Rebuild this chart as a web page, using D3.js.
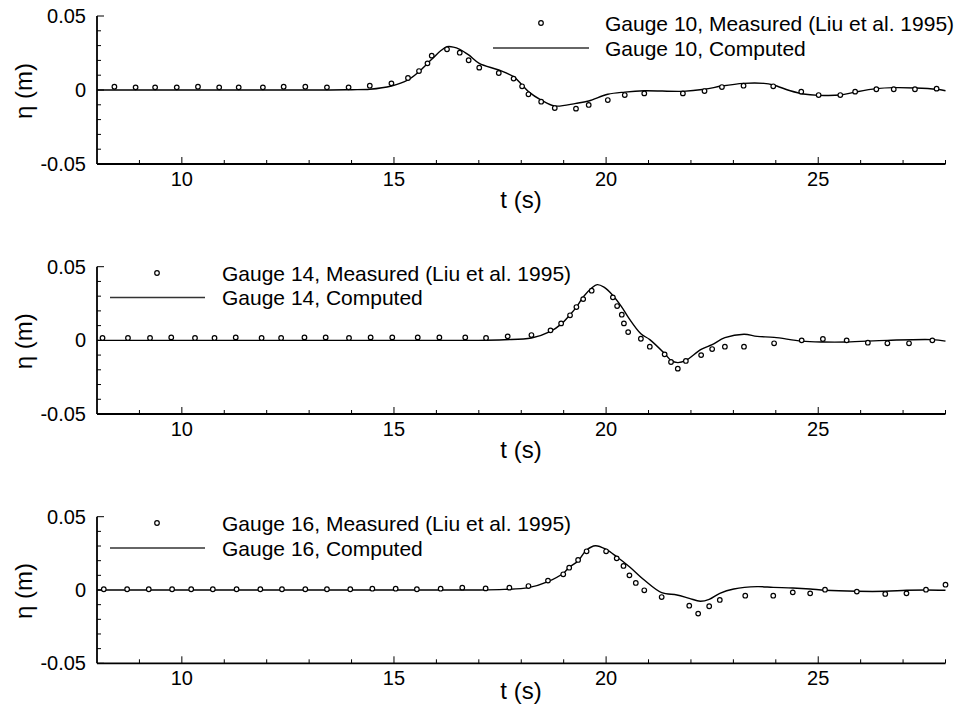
<!DOCTYPE html>
<html>
<head>
<meta charset="utf-8">
<script src="https://cdn.jsdelivr.net/npm/d3@7"></script>
<style>
  html, body { margin: 0; padding: 0; background: #fff; }
  svg { display: block; font-family: "Liberation Sans", Arial, Helvetica, sans-serif; }
</style>
</head>
<body>
<svg id="chart" width="958" height="718"></svg>
<script>
// ── Data ──────────────────────────────────────────────────────
const xTicksMajor = [10, 15, 20, 25];
const yTicksMajor = [0.05, 0, -0.05];
const yTickLabels = ["0.05", "0", "-0.05"];

// Gauge 10
const g10MeasT = [8.41, 8.91, 9.37, 9.88, 10.38, 10.88, 11.34, 11.91, 12.40, 12.91, 13.42, 13.93, 14.43, 14.94, 15.33, 15.59, 15.79, 15.89, 16.25, 16.55, 16.76, 17.01, 17.47, 17.82, 18.02, 18.17, 18.47, 18.79, 19.29, 19.59, 20.04, 20.44, 20.90, 21.81, 22.32, 22.73, 23.24, 23.94, 24.60, 25.01, 25.52, 25.87, 26.37, 26.78, 27.28, 27.79];
const g10MeasEta = [0.0022, 0.0018, 0.0018, 0.0018, 0.0022, 0.0018, 0.0018, 0.0018, 0.0022, 0.0022, 0.0018, 0.0018, 0.0029, 0.0045, 0.0081, 0.0128, 0.018, 0.0232, 0.0275, 0.0252, 0.0201, 0.0151, 0.0115, 0.0077, 0.0025, -0.0029, -0.0079, -0.0122, -0.0126, -0.0101, -0.0068, -0.0034, -0.0023, -0.0023, -0.0007, 0.002, 0.0029, 0.0025, -0.0011, -0.0034, -0.0034, -0.0011, 0.0005, 0.0005, 0.0005, 0.0009];
const g10CompT = [8, 10, 12, 13.5, 14.0, 14.43, 14.94, 15.33, 15.59, 15.89, 16.1, 16.25, 16.4, 16.55, 16.76, 17.01, 17.47, 17.82, 18.02, 18.17, 18.47, 18.79, 19.29, 19.59, 20.04, 20.44, 20.9, 21.81, 22.32, 22.73, 23.24, 23.72, 23.94, 24.34, 24.65, 25.01, 25.52, 25.87, 26.37, 26.78, 27.28, 27.79, 28.0];
const g10CompEta = [0, 0, 0, 0, 0.0002, 0.0005, 0.0027, 0.0068, 0.0124, 0.0207, 0.0265, 0.0292, 0.029, 0.0275, 0.0237, 0.018, 0.0135, 0.009, 0.0034, -0.0011, -0.0068, -0.0108, -0.009, -0.0074, -0.0029, -0.0014, -0.0005, -0.0009, 0.0005, 0.0027, 0.0045, 0.0045, 0.0034, -0.0005, -0.0027, -0.0036, -0.0034, -0.0014, 0.0009, 0.0016, 0.0014, 0.0005, -0.0005];

// Gauge 14
const g14MeasT = [8.13, 8.73, 9.25, 9.75, 10.31, 10.77, 11.27, 11.88, 12.34, 12.89, 13.39, 13.94, 14.45, 14.96, 15.56, 16.07, 16.68, 17.17, 17.68, 18.24, 18.69, 18.94, 19.15, 19.30, 19.46, 19.66, 20.16, 20.26, 20.37, 20.42, 20.52, 20.82, 21.03, 21.38, 21.53, 21.69, 21.88, 22.24, 22.50, 22.80, 23.25, 23.96, 24.61, 25.11, 25.67, 26.17, 26.63, 27.14, 27.69];
const g14MeasEta = [0.0016, 0.0016, 0.0016, 0.002, 0.0016, 0.0016, 0.002, 0.0016, 0.0016, 0.002, 0.002, 0.0016, 0.002, 0.002, 0.002, 0.002, 0.002, 0.0016, 0.0027, 0.0036, 0.0068, 0.0115, 0.017, 0.0226, 0.028, 0.0337, 0.0292, 0.0233, 0.0174, 0.0115, 0.0056, 0.0011, -0.0043, -0.0095, -0.0147, -0.0192, -0.014, -0.01, -0.0059, -0.0043, -0.0043, -0.002, 0, 0.0009, 0, -0.0016, -0.002, -0.002, 0];
const g14CompT = [8, 10, 12, 14, 16, 17.0, 17.6, 18.24, 18.69, 18.94, 19.15, 19.30, 19.46, 19.66, 19.79, 19.95, 20.16, 20.37, 20.52, 20.82, 21.03, 21.38, 21.53, 21.69, 21.88, 22.24, 22.50, 22.80, 23.25, 23.56, 23.96, 24.61, 25.11, 25.67, 26.63, 27.69, 28.0];
const g14CompEta = [0, 0, 0, 0, 0, 0, 0.0004, 0.0016, 0.0061, 0.011, 0.0174, 0.0226, 0.0294, 0.0355, 0.0378, 0.0361, 0.0305, 0.0226, 0.0158, 0.0045, 0.0005, -0.009, -0.0136, -0.0151, -0.0136, -0.0061, -0.0029, 0.0018, 0.0041, 0.0027, 0.002, -0.0005, -0.0011, -0.0011, 0, 0.0005, -0.0005];

// Gauge 16
const g16MeasT = [8.16, 8.71, 9.22, 9.77, 10.22, 10.73, 11.29, 11.85, 12.36, 12.91, 13.42, 13.97, 14.49, 15.04, 15.54, 16.10, 16.61, 17.16, 17.72, 18.17, 18.63, 18.99, 19.13, 19.34, 19.54, 20.00, 20.25, 20.41, 20.55, 20.70, 20.90, 21.31, 21.96, 22.17, 22.43, 22.68, 23.28, 23.94, 24.40, 24.81, 25.16, 25.91, 26.58, 27.08, 27.54, 28.00];
const g16MeasEta = [0.0005, 0.0005, 0.0005, 0.0005, 0.0005, 0.0005, 0.0005, 0.0005, 0.0005, 0.0005, 0.0005, 0.0005, 0.0009, 0.0009, 0.0005, 0.0009, 0.0016, 0.0011, 0.0016, 0.0027, 0.0064, 0.0107, 0.0152, 0.0205, 0.0264, 0.0264, 0.0216, 0.0164, 0.01, 0.0048, -0.0002, -0.0048, -0.0107, -0.0161, -0.0111, -0.0068, -0.0039, -0.0039, -0.0016, -0.0023, 0.0002, -0.0011, -0.0027, -0.0023, 0.0002, 0.0036];
const g16CompT = [8, 10, 12, 14, 16, 17.0, 17.6, 18.17, 18.63, 18.99, 19.13, 19.34, 19.54, 19.75, 20.0, 20.25, 20.55, 20.90, 21.31, 21.67, 21.96, 22.22, 22.43, 22.68, 23.01, 23.56, 23.94, 24.40, 24.81, 25.16, 25.91, 26.58, 27.08, 27.54, 28.0];
const g16CompEta = [0, 0, 0, 0, 0, 0, 0.0004, 0.0016, 0.0057, 0.0114, 0.0155, 0.0198, 0.0273, 0.0302, 0.0277, 0.0227, 0.0159, 0.0068, -0.0018, -0.0034, -0.0057, -0.0077, -0.0064, -0.0023, 0.0007, 0.0023, 0.0018, 0.0014, 0.0007, -0.0002, -0.0009, -0.0009, -0.0002, 0, -0.0002];

const panels = [
  { gauge: "10", measT: g10MeasT, measEta: g10MeasEta, compT: g10CompT, compEta: g10CompEta,
    top: 16, bottom: 164, legend: { markX: 541, lineX0: 493, lineX1: 589, textX: 605, y1: 23, y2: 48 }, tLabelDy: 44 },
  { gauge: "14", measT: g14MeasT, measEta: g14MeasEta, compT: g14CompT, compEta: g14CompEta,
    top: 266.7, bottom: 414, legend: { markX: 157, lineX0: 110, lineX1: 205, textX: 222, y1: 273, y2: 297.5 }, tLabelDy: 44 },
  { gauge: "16", measT: g16MeasT, measEta: g16MeasEta, compT: g16CompT, compEta: g16CompEta,
    top: 516.7, bottom: 663.3, legend: { markX: 157, lineX0: 110, lineX1: 205, textX: 222, y1: 523, y2: 548 }, tLabelDy: 36 }
];

// ── Layout ────────────────────────────────────────────────────
const svg = d3.select("#chart");
const xLeft = 97, xRight = 945.5;
const x = d3.scaleLinear().domain([8, 28]).range([xLeft, xRight]);

const line = d3.line()
  .x(d => x(d[0]))
  .curve(d3.curveCatmullRom.alpha(0.5));

panels.forEach(p => {
  const y = d3.scaleLinear().domain([-0.05, 0.05]).range([p.bottom, p.top]);
  const g = svg.append("g");

  // minor + major ticks on x (pointing inward / up)
  const xMinor = d3.range(9, 29);
  g.append("g").selectAll("line").data(xMinor).join("line")
    .attr("x1", d => x(d)).attr("x2", d => x(d))
    .attr("y1", p.bottom)
    .attr("y2", d => p.bottom - (xTicksMajor.includes(d) ? 7 : 4))
    .attr("stroke", "#000").attr("stroke-width", 1);

  // minor + major ticks on y (pointing inward / right)
  const yMinor = d3.range(-5, 6).map(i => i / 100);
  g.append("g").selectAll("line").data(yMinor).join("line")
    .attr("x1", xLeft)
    .attr("x2", d => xLeft + (Math.round(Math.abs(d * 100)) % 5 === 0 ? 7 : 4))
    .attr("y1", d => y(d)).attr("y2", d => y(d))
    .attr("stroke", "#000").attr("stroke-width", 1);

  // axis lines
  g.append("line").attr("x1", xLeft).attr("x2", xRight)
    .attr("y1", p.bottom).attr("y2", p.bottom)
    .attr("stroke", "#000").attr("stroke-width", 1.8);
  g.append("line").attr("x1", xLeft).attr("x2", xLeft)
    .attr("y1", p.top).attr("y2", p.bottom)
    .attr("stroke", "#000").attr("stroke-width", 1.8);

  // tick labels
  g.append("g").selectAll("text").data(xTicksMajor).join("text")
    .attr("x", d => x(d)).attr("y", p.bottom + 22)
    .attr("text-anchor", "middle").attr("font-size", 20)
    .text(d => d);
  g.append("g").selectAll("text").data(yTicksMajor).join("text")
    .attr("x", xLeft - 11).attr("y", d => y(d) + 7)
    .attr("text-anchor", "end").attr("font-size", 20)
    .text((d, i) => yTickLabels[i]);

  // axis titles
  g.append("text")
    .attr("x", 521).attr("y", p.bottom + p.tLabelDy)
    .attr("text-anchor", "middle").attr("font-size", 24)
    .text("t (s)");
  g.append("text")
    .attr("transform", `translate(32,${y(0) + 1}) rotate(-90)`)
    .attr("text-anchor", "middle").attr("font-size", 24)
    .text("η (m)");

  // computed curve
  const comp = p.compT.map((t, i) => [t, p.compEta[i]]);
  g.append("path")
    .datum(comp)
    .attr("d", line.y(d => y(d[1])))
    .attr("fill", "none").attr("stroke", "#000").attr("stroke-width", 1.4);

  // measured points
  const meas = p.measT.map((t, i) => [t, p.measEta[i]]);
  g.append("g").selectAll("circle").data(meas).join("circle")
    .attr("cx", d => x(d[0])).attr("cy", d => y(d[1]))
    .attr("r", 2.3)
    .attr("fill", "#fff").attr("stroke", "#000").attr("stroke-width", 1.2);

  // legend
  const L = p.legend;
  g.append("circle").attr("cx", L.markX).attr("cy", L.y1).attr("r", 2.3)
    .attr("fill", "#fff").attr("stroke", "#000").attr("stroke-width", 1.2);
  g.append("text").attr("x", L.textX).attr("y", L.y1 + 7.5).attr("font-size", 21)
    .text(`Gauge ${p.gauge}, Measured (Liu et al. 1995)`);
  g.append("line").attr("x1", L.lineX0).attr("x2", L.lineX1)
    .attr("y1", L.y2).attr("y2", L.y2)
    .attr("stroke", "#333").attr("stroke-width", 1.4);
  g.append("text").attr("x", L.textX).attr("y", L.y2 + 7.5).attr("font-size", 21)
    .text(`Gauge ${p.gauge}, Computed`);
});
</script>
</body>
</html>
